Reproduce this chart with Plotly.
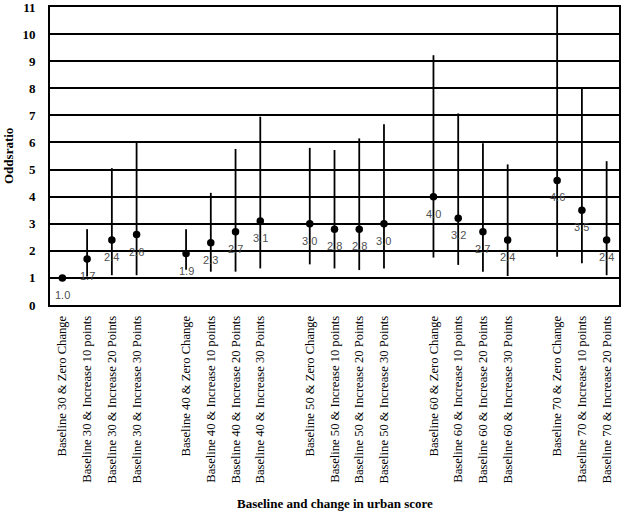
import plotly.graph_objects as go

categories = [
    "Baseline 30 & Zero Change", "Baseline 30 & Increase 10 points",
    "Baseline 30 & Increase 20 Points", "Baseline 30 & Increase 30 Points",
    "Baseline 40 & Zero Change", "Baseline 40 & Increase 10 points",
    "Baseline 40 & Increase 20 Points", "Baseline 40 & Increase 30 Points",
    "Baseline 50 & Zero Change", "Baseline 50 & Increase 10 points",
    "Baseline 50 & Increase 20 Points", "Baseline 50 & Increase 30 Points",
    "Baseline 60 & Zero Change", "Baseline 60 & Increase 10 points",
    "Baseline 60 & Increase 20 Points", "Baseline 60 & Increase 30 Points",
    "Baseline 70 & Zero Change", "Baseline 70 & Increase 10 points",
    "Baseline 70 & Increase 20 Points",
]
# slot positions (groups separated by an empty slot)
slots = [0, 1, 2, 3, 5, 6, 7, 8, 10, 11, 12, 13, 15, 16, 17, 18, 20, 21, 22]
odds = [1.0, 1.7, 2.4, 2.6, 1.9, 2.3, 2.7, 3.1, 3.0, 2.8, 2.8, 3.0,
        4.0, 3.2, 2.7, 2.4, 4.6, 3.5, 2.4]
ci_low = [1.0, 1.05, 1.1, 1.1, 1.3, 1.23, 1.23, 1.35, 1.5, 1.35, 1.29, 1.35,
          1.75, 1.48, 1.23, 1.07, 1.78, 1.54, 1.1]
ci_high = [1.0, 2.8, 5.05, 6.03, 2.8, 4.14, 5.76, 6.95, 5.8, 5.72, 6.15, 6.67,
           9.22, 7.07, 5.97, 5.19, 11.5, 8.03, 5.31]
labels = [f"{v:.1f}" for v in odds]
y_ticks = list(range(0, 12))

err_plus = [h - v for h, v in zip(ci_high, odds)]
err_minus = [v - l for v, l in zip(odds, ci_low)]

fig = go.Figure()
fig.add_trace(go.Scatter(
    x=slots, y=odds, mode="markers",
    marker=dict(color="black", size=7.5),
    error_y=dict(type="data", symmetric=False, array=err_plus,
                 arrayminus=err_minus, color="black", thickness=1.8, width=0),
    cliponaxis=True, showlegend=False,
))

annotations = [
    dict(x=xv, y=yv, text=t, xref="x", yref="y", showarrow=False,
         yshift=-17, xanchor="center", yanchor="middle",
         font=dict(family="Liberation Sans, Arial", size=11, color="#505050"))
    for xv, yv, t in zip(slots, odds, labels)
]
annotations += [
    dict(text="<b>Baseline and change in urban score</b>", xref="paper", yref="paper",
         x=0.5, y=(514 - 503 - 209) / 298.0, xanchor="center", yanchor="middle",
         showarrow=False, font=dict(family="Liberation Serif", size=13, color="black")),
    dict(text="<b>Oddsratio</b>", xref="paper", yref="paper",
         x=(8 - 50) / 569.0, y=0.5, xanchor="center", yanchor="middle",
         textangle=-90, showarrow=False,
         font=dict(family="Liberation Serif", size=13, color="black")),
]

fig.update_layout(
    width=624, height=514,
    margin=dict(l=50, r=5, t=7, b=209),
    paper_bgcolor="white", plot_bgcolor="white",
    font=dict(family="Liberation Serif, Times New Roman", color="black"),
    xaxis=dict(
        range=[-0.5, 22.5], tickmode="array", tickvals=slots, ticktext=categories,
        tickangle=-90, tickfont=dict(family="Liberation Serif", size=12.6, color="black"),
        showgrid=False, showline=True, linecolor="black", linewidth=1.6, mirror=True,
        ticks="outside", ticklen=4, tickcolor="rgba(0,0,0,0)",
        zeroline=False, automargin=False,
    ),
    yaxis=dict(
        range=[0, 11], tickmode="array", tickvals=y_ticks,
        ticktext=[str(v) for v in y_ticks], ticklabeloverflow="allow",
        tickfont=dict(family="Liberation Serif", size=13, color="black", weight="bold"),
        showgrid=True, gridcolor="black", gridwidth=1.6,
        showline=True, linecolor="black", linewidth=1.6, mirror=True,
        zeroline=False, ticks="outside", ticklen=10, tickcolor="rgba(0,0,0,0)",
        automargin=False,
    ),
    annotations=annotations,
)

fig.write_html("out.html", post_script="document.body.style.margin='0';",
               config={"displayModeBar": False})
